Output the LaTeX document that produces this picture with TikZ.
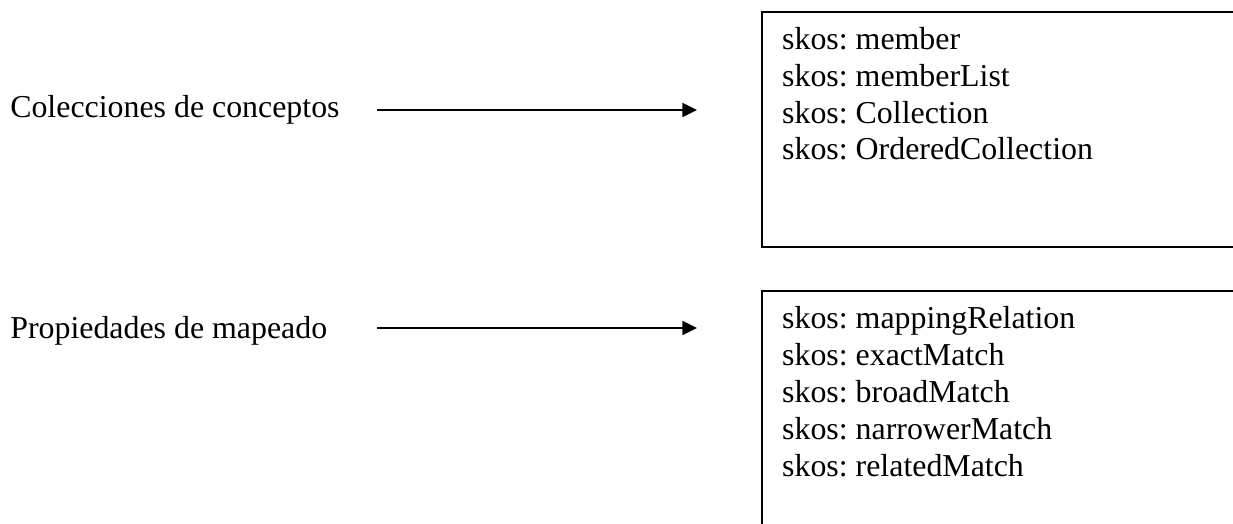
\documentclass[tikz,border=0pt]{standalone}
\usepackage{fontspec}
\setmainfont{Liberation Serif}
\frenchspacing
\usetikzlibrary{
  arrows.meta
}

\tikzset{
  textlabel/.style={inner sep=0pt, anchor=base west,
    font=\fontsize{24pt}{27.75pt}\selectfont},
  listframe/.style={draw=black, line width=1.5pt, anchor=north west,
    minimum width=375pt},
  listtext/.style={inner sep=0pt, anchor=north west, align=left,
    font=\fontsize{24pt}{27.75pt}\selectfont},
  maparrow/.style={line width=1.5pt,
    -{Triangle[length=11pt, width=10.5pt]}}
}

\begin{document}
\begin{tikzpicture}
      \useasboundingbox (0,0) rectangle (32.623,-13.864);
      \clip (0,0) rectangle (32.623,-13.864);

      % labels on the left
      \node [textlabel] (colec) at (0.265,-3.096) {Colecciones de conceptos};
      \node [textlabel] (mapeo) at (0.265,-8.943) {Propiedades de mapeado};

      % boxes on the right
      \node [listframe, minimum height=177.4pt] (colecbox) at (20.135,-0.278) {};
      \node [listframe, minimum height=240pt] (mapeobox) at (20.135,-7.673) {};
      \node [listtext] (colectext) at ([xshift=15.75pt,yshift=-12.4pt]colecbox.north west)
        {skos: member\\skos: memberList\\skos: Collection\\skos: OrderedCollection};
      \node [listtext] (mapeotext) at ([xshift=15.75pt,yshift=-12.4pt]mapeobox.north west)
        {skos: mappingRelation\\skos: exactMatch\\skos: broadMatch\\skos: narrowerMatch\\skos: relatedMatch};

      \coordinate (colecA) at (9.975,-2.910);
      \coordinate (colecB) at (18.44,-2.910);
      \coordinate (mapeoA) at (9.975,-8.678);
      \coordinate (mapeoB) at (18.44,-8.678);
      \draw [maparrow] (colecA) -- (colecB);
      \draw [maparrow] (mapeoA) -- (mapeoB);
    \end{tikzpicture}
\end{document}
